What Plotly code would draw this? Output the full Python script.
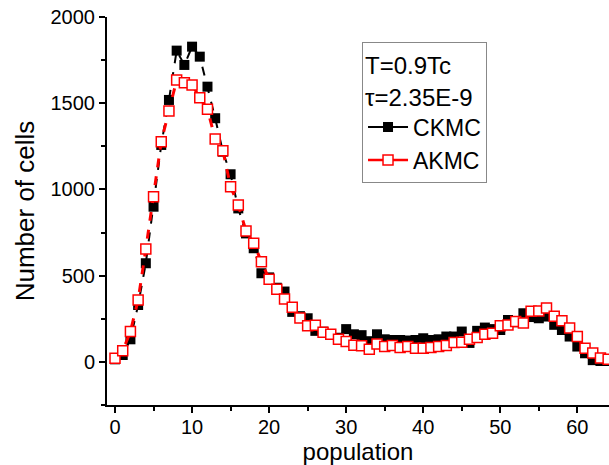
import plotly.graph_objects as go

population = list(range(0, 65))

ckmc = [15, 40, 131, 330, 572, 900, 1258, 1519, 1805, 1722,
        1828, 1770, 1596, 1413, 1219, 1088, 890, 745, 659, 514,
        490, 430, 408, 290, 265, 253, 180, 175, 160, 140,
        190, 160, 155, 120, 160, 131, 127, 127, 124, 127,
        137, 127, 131, 147, 147, 176, 110, 180, 199, 190,
        185, 243, 230, 282, 260, 253, 263, 215, 185, 147,
        89, 50, 10, 5, 5]

akmc = [21, 64, 176, 359, 655, 958, 1277, 1455, 1635, 1619,
        1606, 1532, 1465, 1293, 1225, 1016, 910, 759, 688, 581,
        479, 421, 365, 317, 255, 210, 212, 172, 161, 131,
        118, 97, 93, 74, 104, 89, 95, 83, 89, 79,
        79, 83, 89, 95, 112, 114, 131, 141, 161, 166,
        209, 214, 234, 226, 294, 295, 313, 265, 238, 197,
        147, 79, 51, 22, 15]

FONT = "Liberation Sans, Arial, sans-serif"

black_marker = dict(symbol="square", size=10, color="black", line=dict(color="black", width=0))
red_marker = dict(symbol="square", size=10, color="white", line=dict(color="red", width=1.5))

fig = go.Figure()
fig.add_trace(go.Scatter(
    x=population, y=ckmc, name="CKMC", mode="lines+markers", showlegend=False,
    line=dict(color="black", width=2, dash="dash"), marker=black_marker,
))
fig.add_trace(go.Scatter(
    x=population, y=akmc, name="AKMC", mode="lines+markers", showlegend=False,
    line=dict(color="red", width=3, dash="dash"), marker=red_marker,
))
# legend entries (solid line symbols as in the reference)
fig.add_trace(go.Scatter(
    x=[None], y=[None], name="CKMC", mode="lines+markers",
    line=dict(color="black", width=2), marker=black_marker,
))
fig.add_trace(go.Scatter(
    x=[None], y=[None], name="AKMC", mode="lines+markers",
    line=dict(color="red", width=2.5), marker=red_marker,
))

fig.update_layout(
    width=609, height=465,
    margin=dict(l=107, r=0, t=17, b=60),
    paper_bgcolor="white", plot_bgcolor="white",
    font=dict(family=FONT, color="black", size=20),
    showlegend=True,
    legend=dict(
        x=0.508, y=0.935, xanchor="left", yanchor="top",
        bordercolor="#888888", borderwidth=1, bgcolor="white",
        font=dict(size=23, family=FONT),
        title=dict(text="T=0.9Tc<br>τ=2.35E-9", side="top", font=dict(size=24, family=FONT)),
        tracegroupgap=0,
        itemwidth=40,
    ),
    xaxis=dict(
        range=[-1.04, 64.11], tickmode="linear", tick0=0, dtick=10,
        showgrid=False, zeroline=False, showline=True, linecolor="black", linewidth=2,
        ticks="outside", ticklen=6, tickwidth=2, tickcolor="black",
        ticklabelstandoff=-3,
        minor=dict(ticks="outside", ticklen=4, tickwidth=2, tickcolor="black", dtick=5, showgrid=False),
        tickfont=dict(size=20, family=FONT),
        title=dict(text="population", font=dict(size=24, family=FONT), standoff=6),
    ),
    yaxis=dict(
        range=[-250, 2000], tickmode="linear", tick0=0, dtick=500,
        showgrid=False, zeroline=False, showline=True, linecolor="black", linewidth=2,
        ticks="outside", ticklen=6, tickwidth=2, tickcolor="black",
        minor=dict(ticks="outside", ticklen=4, tickwidth=2, tickcolor="black", dtick=250, showgrid=False),
        tickfont=dict(size=20, family=FONT),
        title=dict(text="Number of cells", font=dict(size=26, family=FONT), standoff=8),
    ),
)

fig.write_html("out.html")
